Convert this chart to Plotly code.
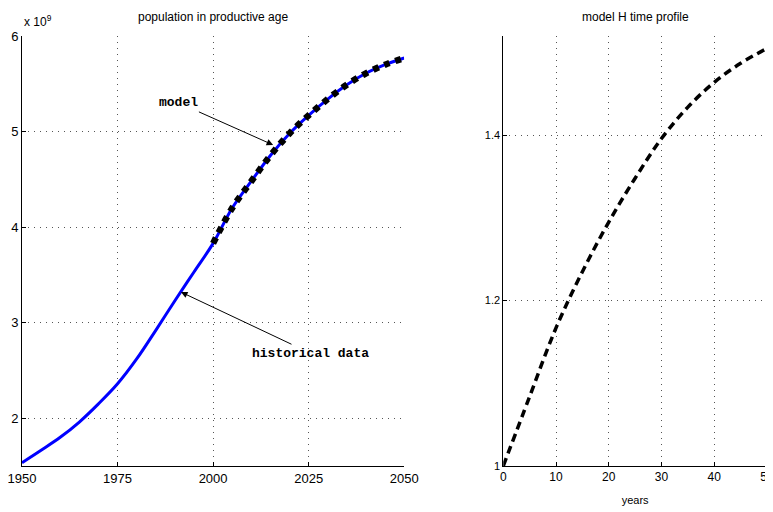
import plotly.graph_objects as go
from plotly.subplots import make_subplots

# historical data (population, billions)
hist_years = [1950, 1955, 1960, 1965, 1970, 1975, 1980, 1985, 1990, 1995, 2000, 2005, 2010, 2015, 2020, 2025, 2030, 2035, 2040, 2045, 2050]
hist_pop = [1.535, 1.665, 1.80, 1.96, 2.15, 2.36, 2.62, 2.92, 3.23, 3.53, 3.83, 4.2, 4.48, 4.75, 4.98, 5.17, 5.34, 5.49, 5.61, 5.70, 5.77]
model_years = [2000, 2005, 2010, 2015, 2020, 2025, 2030, 2035, 2040, 2045, 2050]
model_pop = [3.83, 4.2, 4.48, 4.75, 4.98, 5.17, 5.34, 5.49, 5.61, 5.70, 5.77]

# model H time profile
h_years = [0, 5, 10, 15, 20, 25, 30, 35, 40, 45, 50]
h_vals = [1.0, 1.084, 1.167, 1.235, 1.295, 1.348, 1.396, 1.434, 1.464, 1.487, 1.505]

left_xticks = [1950, 1975, 2000, 2025, 2050]
left_yticks = [2, 3, 4, 5, 6]
right_xticks = [0, 10, 20, 30, 40, 50]
right_yticks = [1, 1.2, 1.4]

FONT = "Liberation Sans Narrow, Liberation Sans, Arial"
MONO = "Liberation Mono, Courier New, monospace"

fig = make_subplots(rows=1, cols=2)
fig.add_trace(go.Scatter(x=hist_years, y=hist_pop, mode="lines",
                         line=dict(color="#0000ff", width=3, shape="spline", smoothing=1.0), showlegend=False), 1, 1)
fig.add_trace(go.Scatter(x=model_years, y=model_pop, mode="lines",
                         line=dict(color="black", width=6.5, dash="6px,6px", shape="spline"), showlegend=False), 1, 1)
fig.add_trace(go.Scatter(x=h_years, y=h_vals, mode="lines",
                         line=dict(color="black", width=3.5, dash="8px,5px", shape="spline"), showlegend=False), 1, 2)

grid = dict(showgrid=True, gridcolor="#555", gridwidth=1, griddash="1px,5px", zeroline=False, automargin=False,
            showline=True, linecolor="black", linewidth=1, ticks="inside", ticklen=4, tickcolor="black",
            ticklabeloverflow="allow")

fig.update_layout(
    width=773, height=512,
    margin=dict(l=14, r=14, t=28, b=54),
    paper_bgcolor="white", plot_bgcolor="white",
    font=dict(family=FONT, size=12, color="black"),
    xaxis=dict(domain=[0, 0.513], range=[1950, 2050], tickvals=left_xticks, tickfont=dict(size=13), **grid),
    yaxis=dict(range=[1.5, 6], tickvals=left_yticks, tickfont=dict(size=13), **grid),
    xaxis2=dict(domain=[0.646, 1.0], range=[0, 50], tickvals=right_xticks, tickfont=dict(size=12),
                title=dict(text="years", font=dict(size=11), standoff=12), **grid),
    yaxis2=dict(range=[1.0, 1.52], tickvals=right_yticks, ticktext=["1", "1.2", "1.4"], tickfont=dict(size=11), **grid),
)

annos = [
    dict(text="population in productive age", xref="x domain", yref="paper", x=0.5, y=1.065, yanchor="top",
         showarrow=False, font=dict(size=12)),
    dict(text="model H time profile", xref="x2 domain", yref="paper", x=0.5, y=1.065, yanchor="top",
         showarrow=False, font=dict(size=12)),
    dict(text="x 10<sup>9</sup>", xref="x domain", yref="paper", x=0.0, y=1.035, xanchor="left", yanchor="middle",
         showarrow=False, font=dict(size=12)),
    dict(text="<b>model</b>", x=2015.7, y=4.86, xref="x", yref="y", ax=1991, ay=5.3, axref="x", ayref="y",
         showarrow=True, arrowhead=2, arrowsize=1.3, arrowwidth=1, arrowcolor="black", font=dict(family=MONO, size=13)),
    dict(text="<b>historical data</b>", x=1991.6, y=3.32, xref="x", yref="y", ax=2025.5, ay=2.68, axref="x", ayref="y",
         showarrow=True, arrowhead=2, arrowsize=1.3, arrowwidth=1, arrowcolor="black", font=dict(family=MONO, size=13)),
]
fig.update_layout(annotations=annos)

fig.write_html("out.html")
